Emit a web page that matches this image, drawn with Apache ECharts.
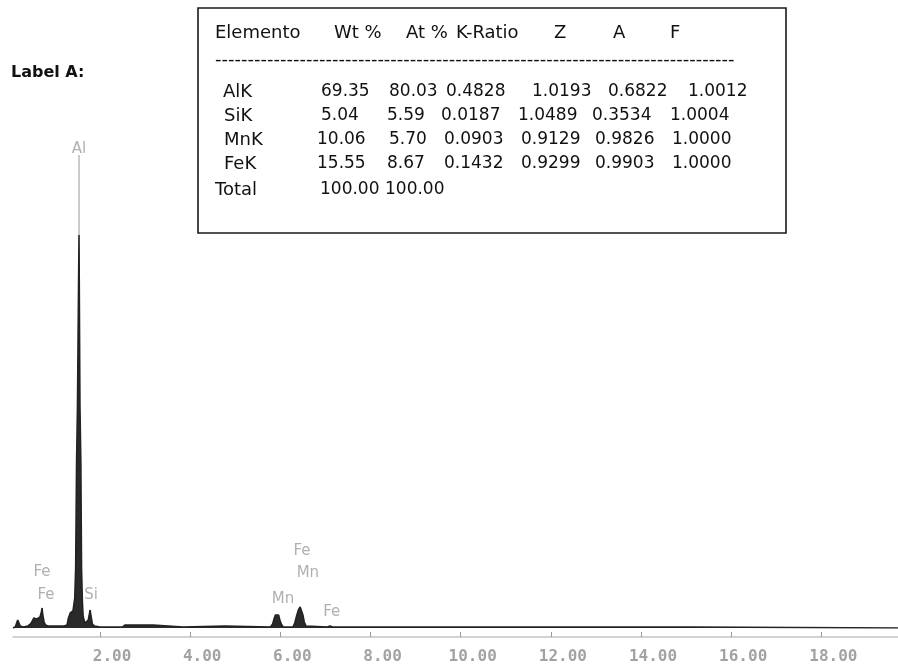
<!DOCTYPE html>
<html>
<head>
<meta charset="utf-8">
<script src="https://cdn.jsdelivr.net/npm/echarts@6/dist/echarts.min.js"></script>
<style>
  html, body { margin: 0; padding: 0; background: #fff; }
  #chart { width: 898px; height: 665px; }
</style>
</head>
<body>
<div id="chart"></div>
<script>
// ---------- DATA ----------
// EDS spectrum: energy (keV) and counts (arbitrary units)
var energyKeV = [0.07,0.12,0.16,0.175,0.19,0.21,0.23,0.30,0.40,0.46,0.50,0.53,0.56,0.60,0.64,0.67,0.70,0.715,0.73,0.76,0.79,0.85,1.00,1.20,1.27,1.30,1.34,1.40,1.44,1.46,1.48,1.50,1.534,1.555,1.575,1.59,1.61,1.625,1.66,1.70,1.74,1.765,1.78,1.80,1.83,1.88,2.00,2.50,2.55,2.97,2.99,3.01,3.18,3.20,3.84,3.85,4.77,4.78,5.78,5.83,5.86,5.89,5.93,5.96,5.99,6.02,6.06,6.28,6.32,6.36,6.40,6.44,6.47,6.50,6.53,6.57,6.60,7.04,7.10,7.16,15.13,15.15,19.7];
var counts    = [0,1,2,8,10,8,2,1,2,4,7,10,8,9,7,11,16,20,13,6,3,2,2,2,3,10,15,17,30,60,165,222,393,222,165,60,25,12,5,4,8,14,18,12,4,2,1,1,3,3,5,3,3,1,1,2,2,1,1,4,9,13,15,13,8,4,1,1,5,12,18,21,19,13,6,2,1,1,2,1,1,0,0];

// Peak labels (element name, energy keV, label level in counts)
var peakNames  = ['Al','Fe','Fe','Si','Fe','Mn','Mn','Fe'];
var peakEnergy = [1.534,0.714,0.80,1.80,6.48,6.61,6.06,7.14];
var peakLevel  = [479,56,33,33,77,55,29,16];

// X axis ticks
var xTicks = [2,4,6,8,10,12,14,16,18];

// Quantification table
var tableHeader = ['Elemento','Wt %','At %','K-Ratio','Z','A','F'];
var tableDash = '--------------------------------------------------------------------------------';
var tableRows = [
  ['AlK','69.35','80.03','0.4828','1.0193','0.6822','1.0012'],
  ['SiK','5.04','5.59','0.0187','1.0489','0.3534','1.0004'],
  ['MnK','10.06','5.70','0.0903','0.9129','0.9826','1.0000'],
  ['FeK','15.55','8.67','0.1432','0.9299','0.9903','1.0000'],
  ['Total','100.00','100.00']
];
var sideLabel = 'Label A:';

// ---------- LAYOUT (positions of table tokens, px) ----------
var boxRect = {x:198, y:8, width:588, height:225};
var headerX = [215,334,406,456,554,613,670];
var headerY = 33;
var dashY = 60;
var rowY = [92,116,140,164,190];
var rowX = [
  [223,321,389,446,532,608,688],
  [224,321,387,441,518,592,670],
  [224,317,389,444,521,595,672],
  [224,317,387,444,521,595,672],
  [215,320,385]
];
var textFont = '18px "DejaVu Sans", sans-serif';
var numFont = '17px "DejaVu Sans", sans-serif';

// ---------- BUILD ----------
var spectrum = energyKeV.map(function (e, i) { return [e, counts[i]]; });
var peakIdx = counts.indexOf(Math.max.apply(null, counts));
var alMarker = [[energyKeV[peakIdx], counts[peakIdx]], [energyKeV[peakIdx], peakLevel[0] - 6]];
var labelData = peakNames.map(function (n, i) { return [peakEnergy[i], peakLevel[i], n]; });

var graphics = [];
graphics.push({type:'rect', shape:boxRect, style:{fill:'#fff', stroke:'#1a1a1a', lineWidth:1.6}, z:10});
tableHeader.forEach(function (t, i) {
  graphics.push({type:'text', z:11, style:{text:t, x:headerX[i], y:headerY, font:textFont, fill:'#111', verticalAlign:'middle'}});
});
graphics.push({type:'text', z:11, style:{text:tableDash, x:215, y:dashY, font:textFont, fill:'#111', verticalAlign:'middle'}});
tableRows.forEach(function (row, r) {
  row.forEach(function (t, c) {
    graphics.push({type:'text', z:11, style:{text:t, x:rowX[r][c], y:rowY[r], font:(c === 0 ? textFont : numFont), fill:'#111', verticalAlign:'middle'}});
  });
});
graphics.push({type:'text', z:11, style:{text:sideLabel, x:11, y:73, font:'bold 16px "DejaVu Sans", sans-serif', fill:'#111', verticalAlign:'middle'}});

var chart = echarts.init(document.getElementById('chart'), null, {renderer:'canvas'});
chart.setOption({
  animation: false,
  backgroundColor: '#fff',
  grid: {left: 13, right: 0, top: 128, bottom: 37, containLabel: false},
  xAxis: {
    type: 'value', min: 0.07, max: 19.7, offset: 9,
    splitLine: {show: false},
    axisLine: {show: true, onZero: false, lineStyle: {color: '#c4c4c4', width: 1.5}},
    axisTick: {show: true, inside: true, length: 5, customValues: xTicks, lineStyle: {color: '#9a9a9a', width: 1}},
    axisLabel: {
      show: true, customValues: xTicks, margin: 12,
      formatter: function (v) { return v.toFixed(2); },
      color: '#a2a2a2', fontSize: 16, fontWeight: 'bold', fontFamily: '"DejaVu Sans Mono", monospace',
      padding: [0, 0, 0, 24]
    }
  },
  yAxis: {type: 'value', min: 0, max: 500, show: false, splitLine: {show: false}},
  series: [
    {
      type: 'line', data: spectrum, showSymbol: false, symbol: 'none', sampling: null,
      lineStyle: {color: '#222', width: 1.6},
      areaStyle: {color: '#2a2a2a', opacity: 1},
      z: 3
    },
    {
      type: 'line', data: alMarker, showSymbol: false, symbol: 'none',
      lineStyle: {color: '#b5b5b5', width: 1.4}, z: 2
    },
    {
      type: 'scatter', data: labelData, symbolSize: 0,
      label: {
        show: true, position: 'inside', formatter: function (p) { return p.value[2]; },
        color: '#9c9c9c', fontSize: 15, fontFamily: '"DejaVu Sans", sans-serif'
      },
      z: 4
    }
  ],
  graphic: graphics
});
</script>
</body>
</html>
